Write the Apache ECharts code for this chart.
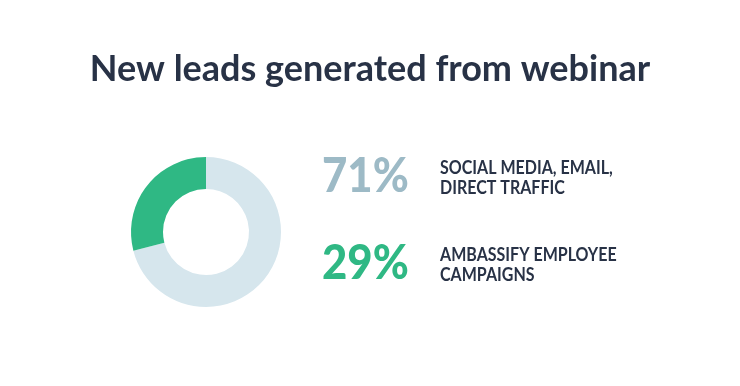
<!DOCTYPE html>
<html><head><meta charset="utf-8">
<script src="https://cdn.jsdelivr.net/npm/echarts@6/dist/echarts.min.js"></script>
<style>html,body{margin:0;padding:0;background:#fff}#c{width:740px;height:386px}</style>
</head><body><div id="c"></div>
<script>
const titleText = "New leads generated from webinar";
const categories = ["SOCIAL MEDIA, EMAIL,\nDIRECT TRAFFIC", "AMBASSIFY EMPLOYEE\nCAMPAIGNS"];
const values = [71, 29];
const colors = ["#d6e6ed", "#2fb884"];
const pctColors = ["#9dbac6", "#2fb884"];
const navy = "#283246";
const font = "Lato";

const chart = echarts.init(document.getElementById('c'), null, {renderer:'canvas'});
const rowY = [178, 265];
const graphics = [];
values.forEach((v, i) => {
  graphics.push({type:'text', x: 322, y: rowY[i] - 25, scaleX: 0.91, originX: 0,
    style:{text: v + '%', font: '900 48px ' + font, fill: pctColors[i]}});
  graphics.push({type:'text', x: 440, y: rowY[i] - 20, scaleX: 0.89, originX: 0,
    style:{text: categories[i], font: 'bold 18px ' + font, fill: navy, lineHeight: 20}});
});
chart.setOption({
  animation:false,
  title:{text:titleText, left:'center', top:46,
    textStyle:{fontFamily:font, fontWeight:'bold', fontSize:36, color:navy}},
  series:[{type:'pie', center:[206,232], radius:[43,75], startAngle:90, clockwise:true,
    label:{show:false}, labelLine:{show:false}, silent:true,
    itemStyle:{borderWidth:0},
    data: values.map((v,i)=>({value:v, name:categories[i], itemStyle:{color:colors[i]}}))}],
  graphic: graphics
});
</script></body></html>
